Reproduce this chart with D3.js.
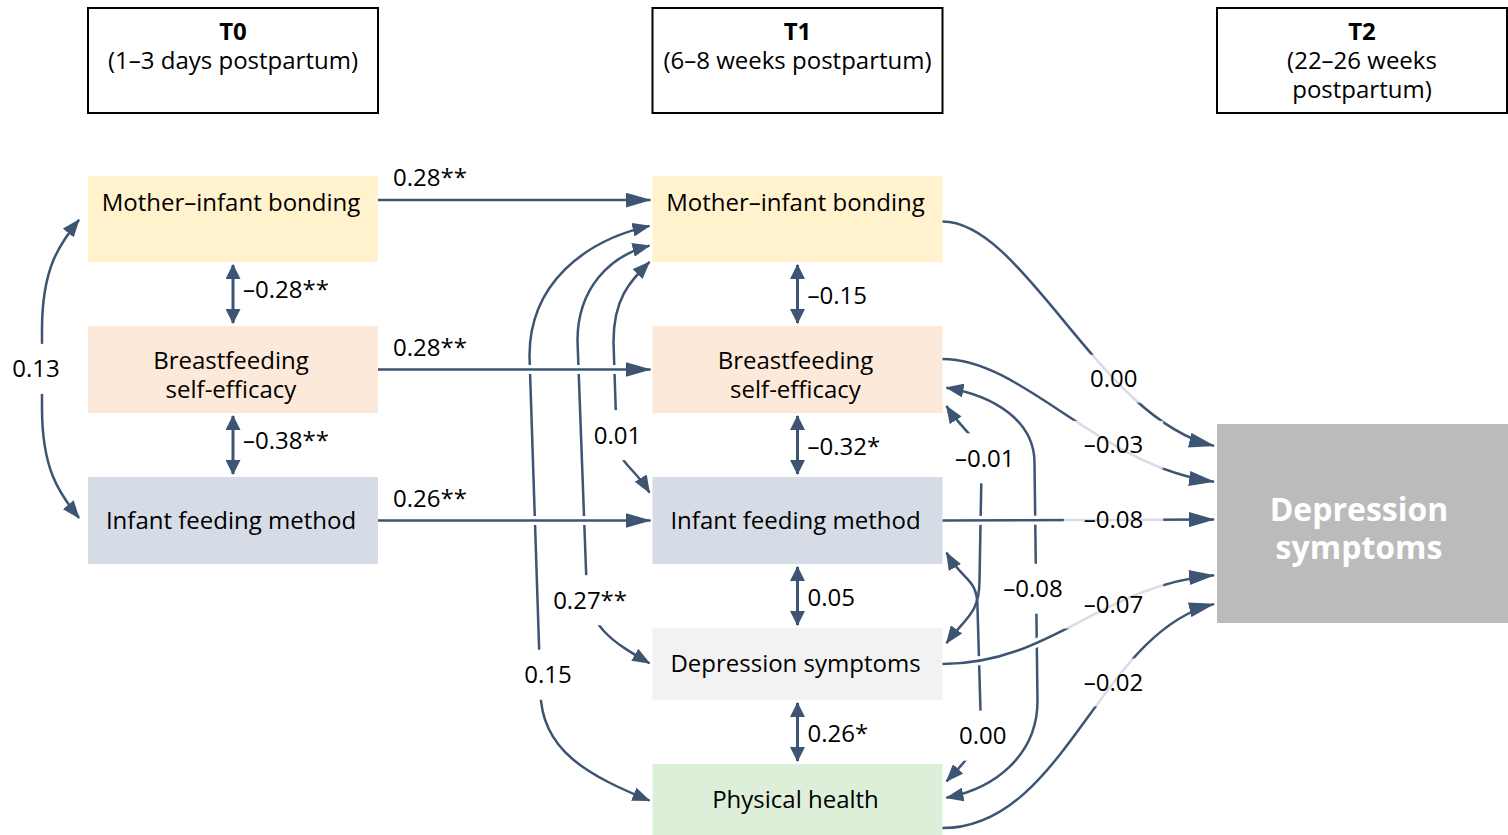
<!DOCTYPE html>
<html>
<head>
<meta charset="utf-8">
<script src="https://cdn.jsdelivr.net/npm/d3@7"></script>
<style>
body { margin: 0; background: #fff; }
svg { display: block; font-family: "Open Sans", sans-serif; }
</style>
</head>
<body>
<svg id="chart" width="1508" height="835"></svg>
<script>
/*global d3*/
// ---- data ----
var waves = ["T0", "T1", "T2"];
var waveNotes = [["(1–3 days postpartum)"], ["(6–8 weeks postpartum)"], ["(22–26 weeks", "postpartum)"]];

var measures = ["bond", "bse", "ifm", "dep", "ph"];
var measureNames = [["Mother–infant bonding"], ["Breastfeeding", "self-efficacy"], ["Infant feeding method"], ["Depression symptoms"], ["Physical health"]];
var t0Measures = ["bond", "bse", "ifm"];
var t1Measures = ["bond", "bse", "ifm", "dep", "ph"];
var outcomeName = ["Depression", "symptoms"];

// T0 -> T1 paths
var stabilityCoef = ["0.28**", "0.28**", "0.26**"];
// neighbour correlations inside each wave
var t0AdjCoef = ["–0.28**", "–0.38**"];
var t0BondIfm = "0.13";
var t1AdjCoef = ["–0.15", "–0.32*", "0.05", "0.26*"];
// T1 bonding with feeding method, depression, physical health
var t1BondWith = ["ifm", "dep", "ph"];
var t1BondCov = ["0.01", "0.27**", "0.15"];
// other T1 correlations (right side)
var t1RightPairs = [["bse", "dep"], ["ifm", "ph"], ["bse", "ph"]];
var t1RightCov = ["–0.01", "0.00", "–0.08"];
// T1 -> T2 depression
var outcomeCoef = ["0.00", "–0.03", "–0.08", "–0.07", "–0.02"];

// ---- layout / style ----
var ink = "#3d5573";
var fills = {bond: "#fff2cc", bse: "#fde9d9", ifm: "#d6dce5", dep: "#f2f2f2", ph: "#ddefd9"};
var rowH = {bond: 86, bse: 87, ifm: 87, dep: 72, ph: 72};
var textAt = {bond: 0.315, bse: 0.56, ifm: 0.5, dep: 0.5, ph: 0.5};
var colW = 290, rowGap = 64, rowTop = 176, fs = 24;
var outTop = 424, outH = 199;

var svg = d3.select("#chart");
var xScale = d3.scalePoint().domain(waves).range([88, 1217]);
var tops = [], acc = rowTop;
measures.forEach(function (m) { tops.push(acc); acc += rowH[m] + rowGap; });
var yTop = d3.scaleOrdinal().domain(measures).range(tops);

function box(wave, m) {
    var x0 = xScale(wave), y0 = yTop(m);
    return {x0: x0, x1: x0 + colW, y0: y0, y1: y0 + rowH[m], cx: x0 + colW / 2, cy: y0 + rowH[m] / 2, h: rowH[m]};
}

var defs = svg.append("defs");
function marker(id, len, wid) {
    defs.append("marker").attr("id", id)
        .attr("markerUnits", "userSpaceOnUse")
        .attr("markerWidth", len).attr("markerHeight", wid)
        .attr("refX", len - 1).attr("refY", wid / 2)
        .attr("orient", "auto-start-reverse")
      .append("path")
        .attr("d", "M0,0L" + len + "," + (wid / 2) + "L0," + wid + "Z")
        .attr("fill", ink);
}
marker("headBig", 26, 15);
marker("headMid", 18, 14);
marker("headSmall", 15, 15);

function multiText(g, lines, cx, cy, lh, size, weight, color) {
    var n = lines.length;
    lines.forEach(function (t, i) {
        g.append("text")
            .attr("x", cx)
            .attr("y", cy + (i - (n - 1) / 2) * lh)
            .attr("dy", "0.35em")
            .attr("text-anchor", "middle")
            .attr("font-size", size)
            .attr("font-weight", weight || "normal")
            .attr("fill", color || "#000")
            .text(t);
    });
}

// ---- header boxes ----
waves.forEach(function (w, i) {
    var g = svg.append("g");
    g.append("rect")
        .attr("x", xScale(w)).attr("y", 8)
        .attr("width", colW).attr("height", 105)
        .attr("fill", "#fff").attr("stroke", "#000").attr("stroke-width", 2);
    var lines = [w].concat(waveNotes[i]);
    lines.forEach(function (t, k) {
        g.append("text")
            .attr("x", xScale(w) + colW / 2)
            .attr("y", 32 + k * 28.6)
            .attr("dy", "0.35em")
            .attr("text-anchor", "middle")
            .attr("font-size", fs)
            .attr("font-weight", k === 0 ? "bold" : "normal")
            .text(t);
    });
});

// ---- measure boxes ----
var nodes = t0Measures.map(function (m) { return {wave: "T0", m: m}; })
    .concat(t1Measures.map(function (m) { return {wave: "T1", m: m}; }));
var nodeG = svg.append("g");
nodes.forEach(function (d) {
    var b = box(d.wave, d.m);
    nodeG.append("rect")
        .attr("x", b.x0).attr("y", b.y0)
        .attr("width", colW).attr("height", b.h)
        .attr("fill", fills[d.m]);
    multiText(nodeG, measureNames[measures.indexOf(d.m)], b.cx - 2, b.y0 + textAt[d.m] * b.h, 29, fs);
});

// outcome box
var outX = xScale("T2");
svg.append("rect")
    .attr("x", outX).attr("y", outTop)
    .attr("width", 1508 - outX).attr("height", outH)
    .attr("fill", "#bbbbbb");
multiText(svg, outcomeName, outX + colW / 2 - 3, outTop + outH / 2 + 5, 38, 32, "bold", "#fff");

// ---- helpers for curves and labels ----
function covD(A, B, dir, s) {
    var vx1 = A.x + dir * s.b1, vx2 = B.x + dir * s.b2;
    var y1 = A.y + s.r1, y2 = B.y - s.r2;
    var p = d3.path();
    p.moveTo(A.x, A.y);
    p.bezierCurveTo(A.x + (vx1 - A.x) * 0.55, A.y + s.s1, vx1, A.y + s.r1 * 0.45, vx1, y1);
    p.lineTo(vx2, y2);
    p.bezierCurveTo(vx2, y2 + s.r2 * 0.55, B.x + (vx2 - B.x) * 0.55, B.y - s.s2, B.x, B.y);
    return p.toString();
}

function findOnPath(node, key, target) {
    var len = node.getTotalLength(), best = null, bestD = Infinity;
    for (var i = 0; i <= 400; i++) {
        var pt = node.getPointAtLength(len * i / 400);
        var dd = Math.abs(pt[key] - target);
        if (dd < bestD) { bestD = dd; best = pt; }
    }
    return best;
}

var labelLayer = [];
function addLabel(x, y, txt, bgPadX, bgH, bgOpacity) {
    labelLayer.push({x: x, y: y, t: txt, px: bgPadX, h: bgH, o: bgOpacity});
}

var covG = svg.append("g");
function covCurve(A, B, dir, s, txt) {
    var path = covG.append("path")
        .attr("d", covD(A, B, dir, s))
        .attr("fill", "none").attr("stroke", ink).attr("stroke-width", 2.5)
        .attr("marker-start", "url(#headMid)").attr("marker-end", "url(#headMid)");
    var pt = findOnPath(path.node(), "y", A.y + s.f * (B.y - A.y));
    addLabel(pt.x + s.lx, pt.y, txt, 4, 50, 1);
}

// T0 bonding <-> feeding method
(function () {
    var a = box("T0", "bond"), b = box("T0", "ifm");
    covCurve({x: a.x0 - 9, y: a.y0 + 0.51 * a.h}, {x: b.x0 - 9, y: b.y0 + 0.47 * b.h}, -1,
        {b1: 37, b2: 37, r1: 110, r2: 110, s1: 25, s2: 25, f: 0.5, lx: -6}, t0BondIfm);
})();

// T1 bonding with lower measures (left side)
var leftShapes = [
    {ya: 1.0, yb: 0.18, b1: 36, b2: 33, r1: 80, r2: 60, s1: 20, s2: 30, f: 0.75, lx: 1},
    {ya: 0.81, yb: 0.49, b1: 72, b2: 63, r1: 95, r2: 80, s1: 10, s2: 20, f: 0.85, lx: 2},
    {ya: 0.58, yb: 0.51, b1: 120, b2: 109, r1: 130, r2: 110, s1: 15, s2: 25, f: 0.78, lx: 8}
];
t1BondWith.forEach(function (m, i) {
    var a = box("T1", "bond"), b = box("T1", m), s = leftShapes[i];
    covCurve({x: a.x0 - 3, y: a.y0 + s.ya * a.h}, {x: b.x0 - 3, y: b.y0 + s.yb * b.h}, -1, s, t1BondCov[i]);
});

// T1 right side correlations
var rightShapes = [
    {ya: 0.92, yb: 0.21, b1: 35, b2: 33, r1: 65, r2: 63, s1: 30, s2: 25, f: 0.22, lx: 4},
    {ya: 0.87, yb: 0.24, b1: 31, b2: 34, r1: 55, r2: 70, s1: 30, s2: 20, f: 0.8, lx: 5},
    {ya: 0.71, yb: 0.47, b1: 88, b2: 91, r1: 75, r2: 97, s1: 8, s2: 10, f: 0.49, lx: -3}
];
t1RightPairs.forEach(function (pr, i) {
    var a = box("T1", pr[0]), b = box("T1", pr[1]), s = rightShapes[i];
    covCurve({x: a.x1 + 4, y: a.y0 + s.ya * a.h}, {x: b.x1 + 4, y: b.y0 + s.yb * b.h}, 1, s, t1RightCov[i]);
});

// ---- neighbour double arrows ----
var adjG = svg.append("g");
function adjacent(wave, list, coefs, shiftY) {
    coefs.forEach(function (c, i) {
        var a = box(wave, list[i]), b = box(wave, list[i + 1]);
        adjG.append("line")
            .attr("x1", a.cx).attr("x2", a.cx)
            .attr("y1", a.y1 + 3).attr("y2", b.y0 - 3)
            .attr("stroke", ink).attr("stroke-width", 3)
            .attr("marker-start", "url(#headSmall)").attr("marker-end", "url(#headSmall)");
        adjG.append("text")
            .attr("x", a.cx + 10).attr("y", (a.y1 + b.y0) / 2 + shiftY)
            .attr("dy", "0.35em")
            .attr("font-size", fs)
            .text(c);
    });
}
adjacent("T0", t0Measures, t0AdjCoef, -4);
adjacent("T1", t1Measures, t1AdjCoef, 2);

// ---- directed paths ----
var dirG = svg.append("g");
function directed(d) {
    dirG.append("path").attr("d", d)
        .attr("fill", "none").attr("stroke", "#fff").attr("stroke-width", 9);
    return dirG.append("path").attr("d", d)
        .attr("fill", "none").attr("stroke", ink).attr("stroke-width", 2.5)
        .attr("marker-end", "url(#headBig)");
}

// T0 -> T1
var stabAnchor = {bond: 0.28, bse: 0.5, ifm: 0.5};
t0Measures.forEach(function (m, i) {
    var a = box("T0", m), b = box("T1", m);
    var yy = a.y0 + stabAnchor[m] * a.h;
    directed(d3.line()([[a.x1, yy], [b.x0 - 2, yy]]));
    dirG.append("text")
        .attr("x", a.x1 + 15).attr("y", yy - 22)
        .attr("dy", "0.35em")
        .attr("font-size", fs)
        .text(stabilityCoef[i]);
});

// T1 -> T2 depression
var fromFrac = {bond: 0.53, bse: 0.38, ifm: 0.5, dep: 0.5, ph: 0.89};
var toFrac = [0.11, 0.29, 0.48, 0.76, 0.905];
var pull = [0.3, 0.3, 0.4, 0.4, 0.45];
t1Measures.forEach(function (m, i) {
    var a = box("T1", m);
    var x0 = a.x1, y0 = a.y0 + fromFrac[m] * a.h;
    var x3 = outX - 3, y3 = outTop + toFrac[i] * outH;
    var dx = x3 - x0, dy = y3 - y0;
    var p = d3.path();
    p.moveTo(x0, y0);
    if (Math.abs(dy) < 2) {
        p.lineTo(x3, y3);
    } else {
        p.bezierCurveTo(x0 + pull[i] * dx, y0, x3 - 0.42 * dx, y3 - 0.12 * dy, x3, y3);
    }
    var path = directed(p.toString());
    var pt = findOnPath(path.node(), "x", x0 + 0.63 * dx);
    addLabel(pt.x, pt.y, outcomeCoef[i], 20, 48, 0.8);
});

// ---- labels with backgrounds ----
var labG = svg.append("g");
labelLayer.forEach(function (l) {
    var t = labG.append("text")
        .attr("x", l.x).attr("y", l.y)
        .attr("dy", "0.35em")
        .attr("text-anchor", "middle")
        .attr("font-size", fs)
        .text(l.t);
    var w = t.node().getComputedTextLength();
    labG.insert("rect", function () { return t.node(); })
        .attr("x", l.x - w / 2 - l.px).attr("y", l.y - l.h / 2)
        .attr("width", w + 2 * l.px).attr("height", l.h)
        .attr("fill", "#fff").attr("fill-opacity", l.o);
});
</script>
</body>
</html>
